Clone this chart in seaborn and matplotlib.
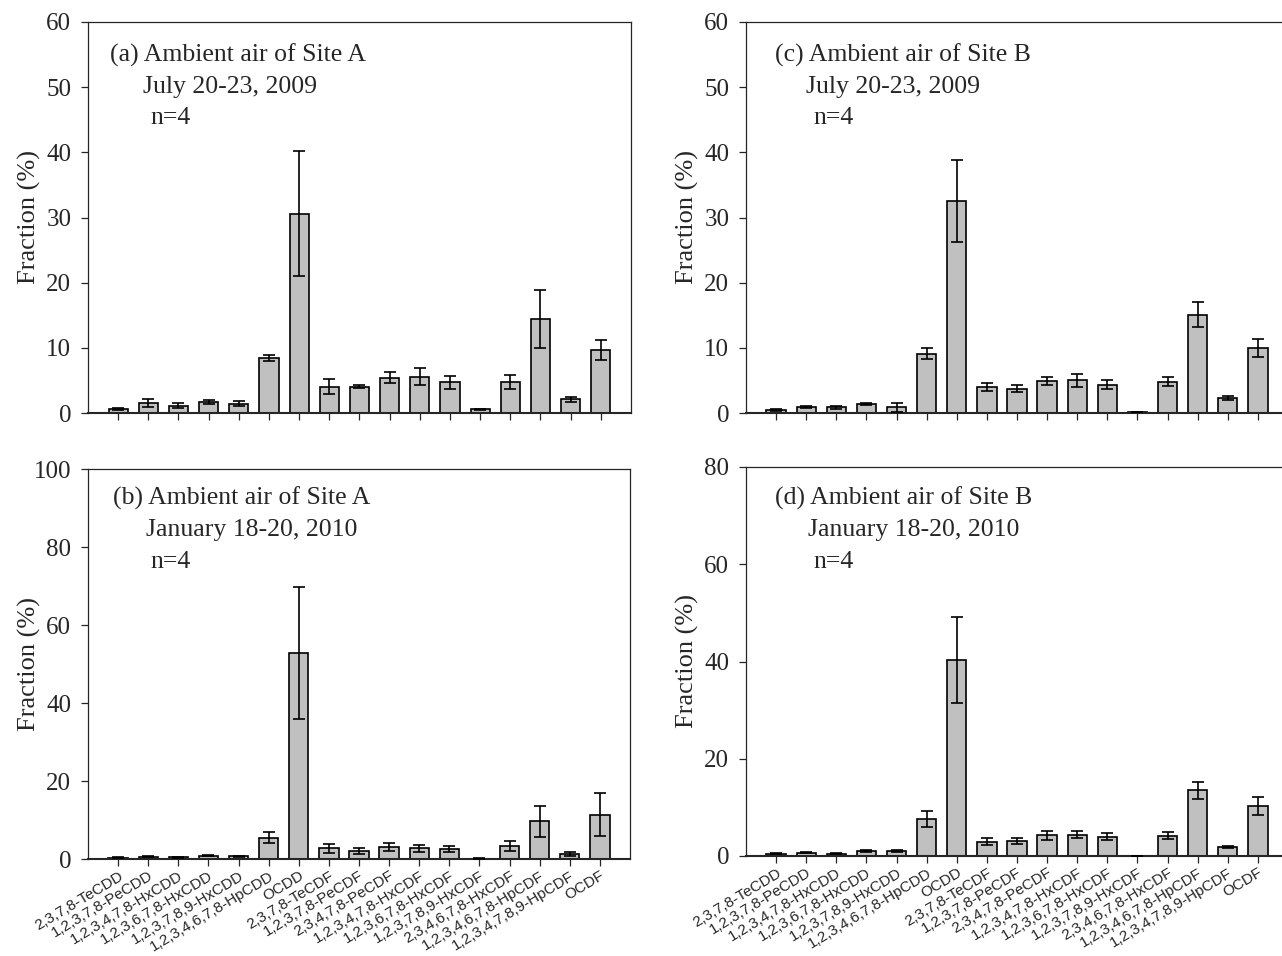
import numpy as np
import pandas as pd
import matplotlib
matplotlib.use("Agg")
import matplotlib.pyplot as plt
import seaborn as sns

# ---------------- data ----------------
congeners = ["2,3,7,8-TeCDD", "1,2,3,7,8-PeCDD", "1,2,3,4,7,8-HxCDD",
             "1,2,3,6,7,8-HxCDD", "1,2,3,7,8,9-HxCDD", "1,2,3,4,6,7,8-HpCDD",
             "OCDD", "2,3,7,8-TeCDF", "1,2,3,7,8-PeCDF", "2,3,4,7,8-PeCDF",
             "1,2,3,4,7,8-HxCDF", "1,2,3,6,7,8-HxCDF", "1,2,3,7,8,9-HxCDF",
             "2,3,4,6,7,8-HxCDF", "1,2,3,4,6,7,8-HpCDF", "1,2,3,4,7,8,9-HpCDF",
             "OCDF"]

a_mean = [0.6, 1.5, 1.1, 1.7, 1.4, 8.5, 30.6, 4.05, 4.05, 5.4, 5.6, 4.7, 0.55, 4.8, 14.4, 2.1, 9.7]
a_err  = [0.1, 0.65, 0.4, 0.25, 0.4, 0.45, 9.6, 1.1, 0.25, 0.85, 1.3, 1.0, 0.1, 1.1, 4.5, 0.35, 1.55]

b_mean = [0.35, 0.6, 0.45, 0.85, 0.7, 5.5, 52.8, 2.75, 2.15, 3.1, 2.75, 2.5, 0.1, 3.25, 9.65, 1.2, 11.4]
b_err  = [0.1, 0.15, 0.1, 0.1, 0.15, 1.35, 16.9, 1.2, 0.75, 1.1, 0.9, 0.75, 0.05, 1.3, 3.9, 0.55, 5.4]

c_mean = [0.4, 0.9, 0.85, 1.4, 0.85, 9.1, 32.6, 4.0, 3.75, 4.9, 5.0, 4.35, 0.15, 4.8, 15.1, 2.25, 9.95]
c_err  = [0.15, 0.1, 0.25, 0.1, 0.65, 0.8, 6.3, 0.55, 0.55, 0.65, 0.95, 0.7, 0.05, 0.65, 1.9, 0.3, 1.4]

d_mean = [0.5, 0.7, 0.5, 1.1, 0.95, 7.6, 40.3, 2.9, 3.1, 4.25, 4.4, 4.0, 0.0, 4.2, 13.5, 1.9, 10.3]
d_err  = [0.1, 0.15, 0.1, 0.2, 0.2, 1.7, 8.9, 0.7, 0.65, 0.9, 0.8, 0.75, 0.0, 0.75, 1.7, 0.2, 1.85]

titles = ["(a) Ambient air of Site A", "(b) Ambient air of Site A",
          "(c) Ambient air of Site B", "(d) Ambient air of Site B"]
dates = ["July 20-23, 2009", "January 18-20, 2010",
         "July 20-23, 2009", "January 18-20, 2010"]
n_text = "n=4"

# ---------------- style ----------------
sns.set_style("ticks")
plt.rcParams["font.family"] = ["Liberation Serif", "DejaVu Serif"]

W, H = 1282, 956
fig = plt.figure(figsize=(W / 100, H / 100), dpi=100)


def px_axes(left, top, right, bottom):
    return fig.add_axes([left / W, 1 - bottom / H, (right - left) / W, (bottom - top) / H])


panels = [
    (a_mean, a_err, 60, np.arange(0, 61, 10), False, (88, 22, 631, 413)),
    (b_mean, b_err, 100, np.arange(0, 101, 20), True, (88, 469, 630, 859)),
    (c_mean, c_err, 60, np.arange(0, 61, 10), False, (746, 22, 1288, 413)),
    (d_mean, d_err, 80, np.arange(0, 81, 20), True, (746, 467, 1288, 856)),
]

text_pos = [
    ((110, 55), (143, 87), (150, 118)),
    ((113, 498), (146, 530), (150, 562)),
    ((775, 55), (806, 87), (813, 118)),
    ((775, 498), (808, 530), (813, 562)),
]

for i, (mean, err, ytop, yticks, xlab, rect) in enumerate(panels):
    ax = px_axes(*rect)
    df = pd.DataFrame({"congener": congeners, "fraction": mean})
    sns.barplot(data=df, x="congener", y="fraction", order=congeners,
                color="#C0C0C0", edgecolor="black", linewidth=1.2,
                width=0.64, saturation=1, ax=ax)
    xs = np.arange(len(congeners))
    ax.errorbar(xs, mean, yerr=err, fmt="none", ecolor="black",
                elinewidth=1.2, capsize=4.5, capthick=1.2, zorder=5)
    ax.set_xlim(-1, 17)
    ax.set_ylim(0, ytop)
    ax.set_yticks(yticks)
    ax.set_yticklabels([str(v) for v in yticks], fontsize=18)
    ax.set_ylabel("Fraction (%)", fontsize=19)
    ax.set_xlabel("")
    axw = rect[2] - rect[0]
    ax.yaxis.set_label_coords(-47 / axw, 0.5)
    for s in ax.spines.values():
        s.set_linewidth(0.9)
        s.set_visible(True)
    ax.spines["bottom"].set_linewidth(1.5)
    ax.tick_params(axis="y", direction="out", length=5, width=0.9, pad=7)
    ax.tick_params(axis="x", direction="out", length=5, width=0.9, pad=2)
    ax.set_xticks(xs)
    if xlab:
        ax.set_xticklabels(congeners, rotation=31, ha="right",
                           rotation_mode="anchor", fontsize=11,
                           family=["Liberation Sans", "DejaVu Sans"])
    else:
        ax.set_xticklabels([])
    ax.set_facecolor("white")

    for (x, y), s in zip(text_pos[i], (titles[i], dates[i], n_text)):
        fig.text(x / W, 1 - y / H, s, fontsize=18.5, va="center", ha="left")

fig.savefig("out.png", dpi=100, facecolor="white")
